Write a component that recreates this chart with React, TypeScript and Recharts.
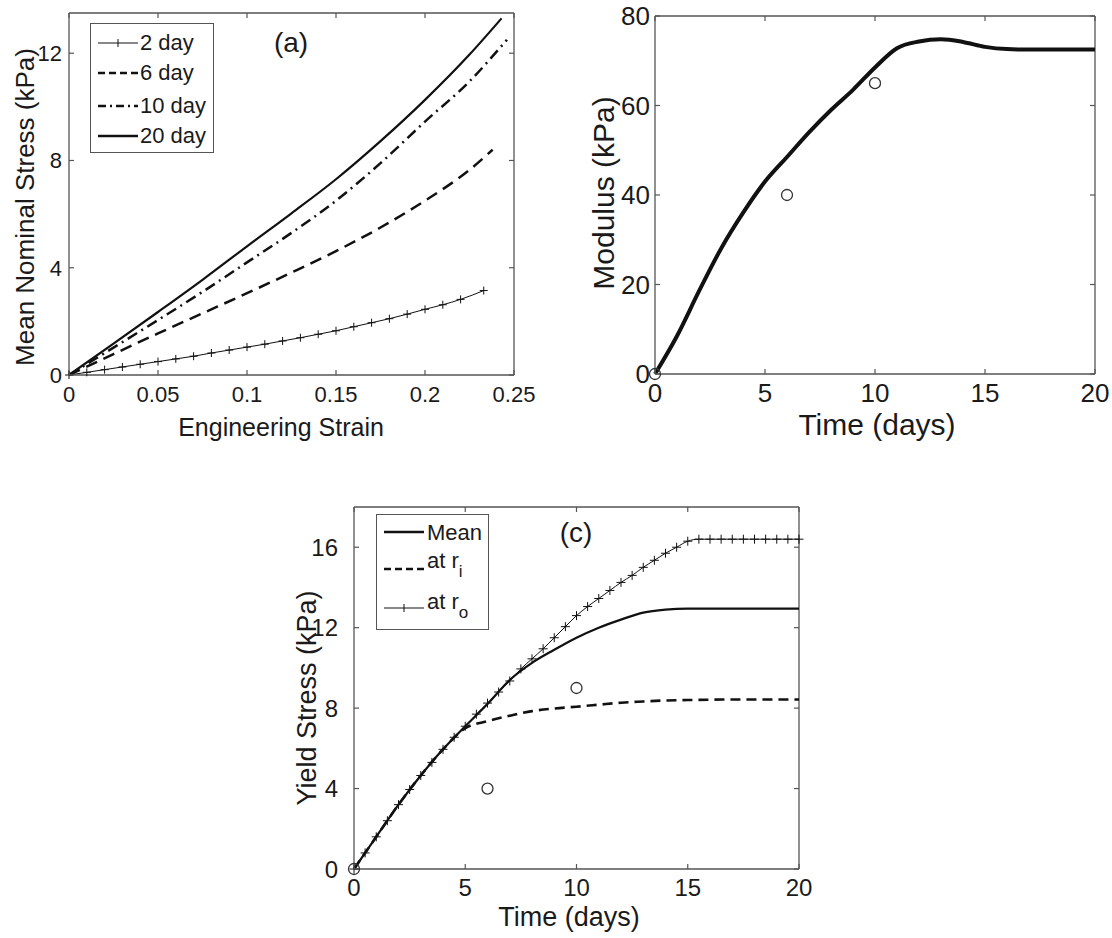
import React from "react";
import { LineChart, Line, XAxis, YAxis, ReferenceLine } from "recharts";

const FONT = '"Liberation Sans", Arial, Helvetica, sans-serif';
const INK = "#111";
const FRAME = "#555";
const TEXT = "#1a1a1a";

// (a) mean nominal stress (kPa) vs engineering strain
const strain2 = [0, 0.01, 0.02, 0.03, 0.04, 0.05, 0.06, 0.07, 0.08, 0.09, 0.1, 0.11, 0.12, 0.13, 0.14, 0.15, 0.16, 0.17, 0.18, 0.19, 0.2, 0.21, 0.22, 0.233];
const stress2 = [0, 0.1, 0.2, 0.3, 0.4, 0.5, 0.6, 0.7, 0.82, 0.93, 1.04, 1.15, 1.27, 1.39, 1.52, 1.65, 1.8, 1.95, 2.1, 2.27, 2.45, 2.62, 2.82, 3.15];
const strain6 = [0, 0.025, 0.05, 0.075, 0.1, 0.125, 0.15, 0.175, 0.2, 0.225, 0.238];
const stress6 = [0, 0.78, 1.55, 2.3, 3.05, 3.82, 4.62, 5.5, 6.5, 7.65, 8.4];
const strain10 = [0, 0.025, 0.05, 0.075, 0.1, 0.125, 0.15, 0.175, 0.2, 0.225, 0.246];
const stress10 = [0, 1.02, 2.05, 3.1, 4.2, 5.3, 6.5, 7.9, 9.45, 10.95, 12.5];
const strain20 = [0, 0.025, 0.05, 0.075, 0.1, 0.125, 0.15, 0.175, 0.2, 0.225, 0.243];
const stress20 = [0, 1.17, 2.35, 3.55, 4.8, 6.03, 7.3, 8.72, 10.26, 11.95, 13.3];
const strainTicks = [0, 0.05, 0.1, 0.15, 0.2, 0.25];
const stressTicks = [0, 4, 8, 12];

// (b) modulus (kPa) vs time (days)
const modDays = [0, 1, 2, 3, 4, 5, 6, 7, 8, 9, 10, 11, 12, 13, 14, 15, 16, 17, 18, 19, 20];
const modulus = [0, 8.5, 18.5, 28, 36, 43, 48.5, 54, 59, 63.5, 68.5, 72.8, 74.3, 74.8, 74.2, 73.1, 72.6, 72.5, 72.5, 72.5, 72.5];
const expDays = [0, 6, 10];
const expModulus = [0, 40, 65];
const modTicks = [0, 20, 40, 60, 80];

// (c) yield stress (kPa) vs time (days)
const yDays = [0, 1, 2, 3, 4, 5, 6, 7, 8, 9, 10, 11, 12, 13, 14, 15, 16, 18, 20];
const yieldMean = [0, 1.6, 3.2, 4.65, 5.95, 7.1, 8.2, 9.4, 10.25, 10.9, 11.5, 12.0, 12.4, 12.75, 12.9, 12.95, 12.95, 12.95, 12.95];
const yieldInner = [0, 1.6, 3.2, 4.65, 5.95, 7.0, 7.35, 7.62, 7.85, 7.98, 8.07, 8.17, 8.27, 8.33, 8.38, 8.4, 8.42, 8.43, 8.43];
const outerDays = [0, 0.5, 1, 1.5, 2, 2.5, 3, 3.5, 4, 4.5, 5, 5.5, 6, 6.5, 7, 7.5, 8, 8.5, 9, 9.5, 10, 10.5, 11, 11.5, 12, 12.5, 13, 13.5, 14, 14.5, 15, 15.5, 16, 16.5, 17, 17.5, 18, 18.5, 19, 19.5, 20];
const yieldOuter = [0, 0.8, 1.6, 2.4, 3.2, 3.95, 4.65, 5.3, 5.95, 6.55, 7.1, 7.7, 8.25, 8.8, 9.35, 9.95, 10.45, 10.95, 11.5, 12.05, 12.6, 13.05, 13.45, 13.85, 14.25, 14.6, 15.0, 15.35, 15.7, 16.0, 16.3, 16.4, 16.4, 16.4, 16.4, 16.4, 16.4, 16.4, 16.4, 16.4, 16.4];
const expYield = [0, 4, 9];
const yieldTicks = [0, 4, 8, 12, 16];
const dayTicks = [0, 5, 10, 15, 20];

const pts = (xs: number[], ys: number[]) => xs.map((x, i) => ({ x, y: ys[i] }));

const plusDot = (s: number) => (p: any) => (
  <path
    key={`plus-${p.index}`}
    d={`M${p.cx - s},${p.cy}H${p.cx + s}M${p.cx},${p.cy - s}V${p.cy + s}`}
    stroke={INK}
    strokeWidth={1}
    fill="none"
  />
);

const ringDot = (p: any) => (
  <circle key={`ring-${p.index}`} cx={p.cx} cy={p.cy} r={5.5} fill="none" stroke="#333" strokeWidth={1.3} />
);

// plot box edges in chart pixels, used for the inward MATLAB-style ticks on all four sides
type Box = { top: number; bottom: number; left: number; right: number };

const xTick = (box: Box, fs: number) => (p: any) => (
  <g key={`xt-${p.index}`}>
    <line x1={p.x} x2={p.x} y1={box.bottom} y2={box.bottom - 5} stroke={FRAME} strokeWidth={1.2} />
    <line x1={p.x} x2={p.x} y1={box.top} y2={box.top + 5} stroke={FRAME} strokeWidth={1.2} />
    <text x={p.x} y={p.y} dy="0.71em" textAnchor="middle" fontSize={fs} fill={TEXT} fontFamily={FONT}>
      {String(p.payload.value)}
    </text>
  </g>
);

const yTick = (box: Box, fs: number) => (p: any) => (
  <g key={`yt-${p.index}`}>
    <line x1={box.left} x2={box.left + 5} y1={p.y} y2={p.y} stroke={FRAME} strokeWidth={1.2} />
    <line x1={box.right} x2={box.right - 5} y1={p.y} y2={p.y} stroke={FRAME} strokeWidth={1.2} />
    <text x={p.x} y={p.y} dy="0.36em" textAnchor="end" fontSize={fs} fill={TEXT} fontFamily={FONT}>
      {String(p.payload.value)}
    </text>
  </g>
);

function frameAxes(box: Box, xDomain: number[], xTicks: number[], yDomain: number[], yTicks: number[], fs: number, xtm: number, ytm: number, xh: number, yw: number) {
  const line = { stroke: FRAME, strokeWidth: 1.3 };
  return [
    <XAxis key="xb" xAxisId="b" type="number" dataKey="x" domain={xDomain} ticks={xTicks} interval={0}
      tickSize={0} tickMargin={xtm} height={xh} axisLine={line} tickLine={false} tick={xTick(box, fs)} />,
    <YAxis key="yl" yAxisId="l" type="number" domain={yDomain} ticks={yTicks} interval={0}
      tickSize={0} tickMargin={ytm} width={yw} axisLine={line} tickLine={false} tick={yTick(box, fs)} />,
    <ReferenceLine key="top" xAxisId="b" yAxisId="l" y={yDomain[1]} stroke={FRAME} strokeWidth={1.3} />,
    <ReferenceLine key="right" xAxisId="b" yAxisId="l" x={xDomain[1]} stroke={FRAME} strokeWidth={1.3} />,
  ];
}

function AxisTitle({ text, x, y, size, vertical }: { text: string; x: number; y: number; size: number; vertical?: boolean }) {
  return (
    <div
      style={{
        position: "absolute",
        left: x,
        top: y,
        transform: `translate(-50%, -50%)${vertical ? " rotate(-90deg)" : ""}`,
        fontSize: size,
        fontFamily: FONT,
        color: TEXT,
        whiteSpace: "nowrap",
        lineHeight: 1,
      }}
    >
      {text}
    </div>
  );
}

function Sample({ dash, width, plus }: { dash?: string; width: number; plus?: boolean }) {
  return (
    <svg width={42} height={12} style={{ position: "absolute", left: 0, top: -6 }}>
      <line x1={1} y1={6} x2={41} y2={6} stroke={INK} strokeWidth={width} strokeDasharray={dash} />
      {plus && <path d="M21,2V10" stroke={INK} strokeWidth={1} />}
    </svg>
  );
}

const legendText = {
  position: "absolute" as const,
  fontSize: 22,
  fontFamily: FONT,
  color: TEXT,
  lineHeight: "24px",
  whiteSpace: "nowrap" as const,
};

function StrainLegend() {
  const rows = [
    { label: "2 day", width: 1, plus: true, y: 19 },
    { label: "6 day", width: 2.5, dash: "7 4", y: 49 },
    { label: "10 day", width: 2.5, dash: "8 4 2 4", y: 82 },
    { label: "20 day", width: 2.5, y: 112 },
  ];
  return (
    <div style={{ position: "absolute", left: 90, top: 23, width: 122, height: 128, border: `1.5px solid ${FRAME}`, background: "#fff" }}>
      {rows.map((r) => (
        <div key={r.label} style={{ position: "absolute", left: 6, top: r.y }}>
          <Sample dash={r.dash} width={r.width} plus={r.plus} />
          <span style={{ ...legendText, left: 43, top: -12 }}>{r.label}</span>
        </div>
      ))}
    </div>
  );
}

function YieldLegend() {
  return (
    <div style={{ position: "absolute", left: 376, top: 514, width: 111, height: 114, border: `1.5px solid ${FRAME}`, background: "#fff" }}>
      <div style={{ position: "absolute", left: 6, top: 17 }}>
        <Sample width={2.5} />
        <span style={{ ...legendText, left: 44, top: -11 }}>Mean</span>
      </div>
      <div style={{ position: "absolute", left: 6, top: 54 }}>
        <Sample width={2.5} dash="7 4" />
        <span style={{ ...legendText, left: 44, top: -20 }}>
          at r<sub style={{ fontSize: 17, verticalAlign: -9 }}>i</sub>
        </span>
      </div>
      <div style={{ position: "absolute", left: 6, top: 93 }}>
        <Sample width={1} plus />
        <span style={{ ...legendText, left: 44, top: -18 }}>
          at r<sub style={{ fontSize: 17, verticalAlign: -9 }}>o</sub>
        </span>
      </div>
    </div>
  );
}

const boxA: Box = { top: 13, bottom: 375, left: 69, right: 514 };
const boxB: Box = { top: 16, bottom: 374, left: 95, right: 535 };
const boxC: Box = { top: 7, bottom: 369, left: 64, right: 509 };

export default function App() {
  return (
    <div style={{ position: "absolute", left: 0, top: 0, width: 1112, height: 938, background: "#fff", overflow: "hidden" }}>
      {/* (a) */}
      <div style={{ position: "absolute", left: 0, top: 0 }}>
        <LineChart width={540} height={420} margin={{ top: 13, right: 26, left: 0, bottom: 0 }}>
          {frameAxes(boxA, [0, 0.25], strainTicks, [0, 13.5], stressTicks, 22, 11, 7, 45, 69)}
          <Line xAxisId="b" yAxisId="l" data={pts(strain2, stress2)} dataKey="y" type="monotone" stroke={INK} strokeWidth={1}
            dot={plusDot(4)} activeDot={false} isAnimationActive={false} />
          <Line xAxisId="b" yAxisId="l" data={pts(strain6, stress6)} dataKey="y" type="monotone" stroke={INK} strokeWidth={2.5}
            strokeDasharray="12 7" dot={false} activeDot={false} isAnimationActive={false} />
          <Line xAxisId="b" yAxisId="l" data={pts(strain10, stress10)} dataKey="y" type="monotone" stroke={INK} strokeWidth={2.5}
            strokeDasharray="11 5 2 5" dot={false} activeDot={false} isAnimationActive={false} />
          <Line xAxisId="b" yAxisId="l" data={pts(strain20, stress20)} dataKey="y" type="monotone" stroke={INK} strokeWidth={2.2}
            dot={false} activeDot={false} isAnimationActive={false} />
        </LineChart>
      </div>
      <StrainLegend />
      <AxisTitle text="(a)" x={291} y={43} size={28} />
      <AxisTitle text="Mean Nominal Stress (kPa)" x={25} y={207} size={26} vertical />
      <AxisTitle text="Engineering Strain" x={281} y={427} size={25} />

      {/* (b) */}
      <div style={{ position: "absolute", left: 560, top: 0 }}>
        <LineChart width={552} height={420} margin={{ top: 16, right: 17, left: 0, bottom: 0 }}>
          {frameAxes(boxB, [0, 20], dayTicks, [0, 80], modTicks, 26, 10, 5, 46, 95)}
          <Line xAxisId="b" yAxisId="l" data={pts(modDays, modulus)} dataKey="y" type="monotone" stroke={INK} strokeWidth={4}
            dot={false} activeDot={false} isAnimationActive={false} />
          <Line xAxisId="b" yAxisId="l" data={pts(expDays, expModulus)} dataKey="y" stroke="none"
            dot={ringDot} activeDot={false} isAnimationActive={false} />
        </LineChart>
      </div>
      <AxisTitle text="Modulus (kPa)" x={604} y={193} size={30} vertical />
      <AxisTitle text="Time (days)" x={877} y={425} size={30} />

      {/* (c) */}
      <div style={{ position: "absolute", left: 290, top: 500 }}>
        <LineChart width={540} height={438} margin={{ top: 7, right: 31, left: 0, bottom: 0 }}>
          {frameAxes(boxC, [0, 20], dayTicks, [0, 18], yieldTicks, 24, 10, 16, 69, 64)}
          <Line xAxisId="b" yAxisId="l" data={pts(outerDays, yieldOuter)} dataKey="y" type="monotone" stroke={INK} strokeWidth={1}
            dot={plusDot(4.5)} activeDot={false} isAnimationActive={false} />
          <Line xAxisId="b" yAxisId="l" data={pts(yDays, yieldInner)} dataKey="y" type="monotone" stroke={INK} strokeWidth={2.6}
            strokeDasharray="10 6" dot={false} activeDot={false} isAnimationActive={false} />
          <Line xAxisId="b" yAxisId="l" data={pts(yDays, yieldMean)} dataKey="y" type="monotone" stroke={INK} strokeWidth={2.2}
            dot={false} activeDot={false} isAnimationActive={false} />
          <Line xAxisId="b" yAxisId="l" data={pts(expDays, expYield)} dataKey="y" stroke="none"
            dot={ringDot} activeDot={false} isAnimationActive={false} />
        </LineChart>
      </div>
      <YieldLegend />
      <AxisTitle text="(c)" x={576} y={533} size={28} />
      <AxisTitle text="Yield Stress (kPa)" x={307} y={698} size={27} vertical />
      <AxisTitle text="Time (days)" x={569} y={917} size={27} />
    </div>
  );
}
